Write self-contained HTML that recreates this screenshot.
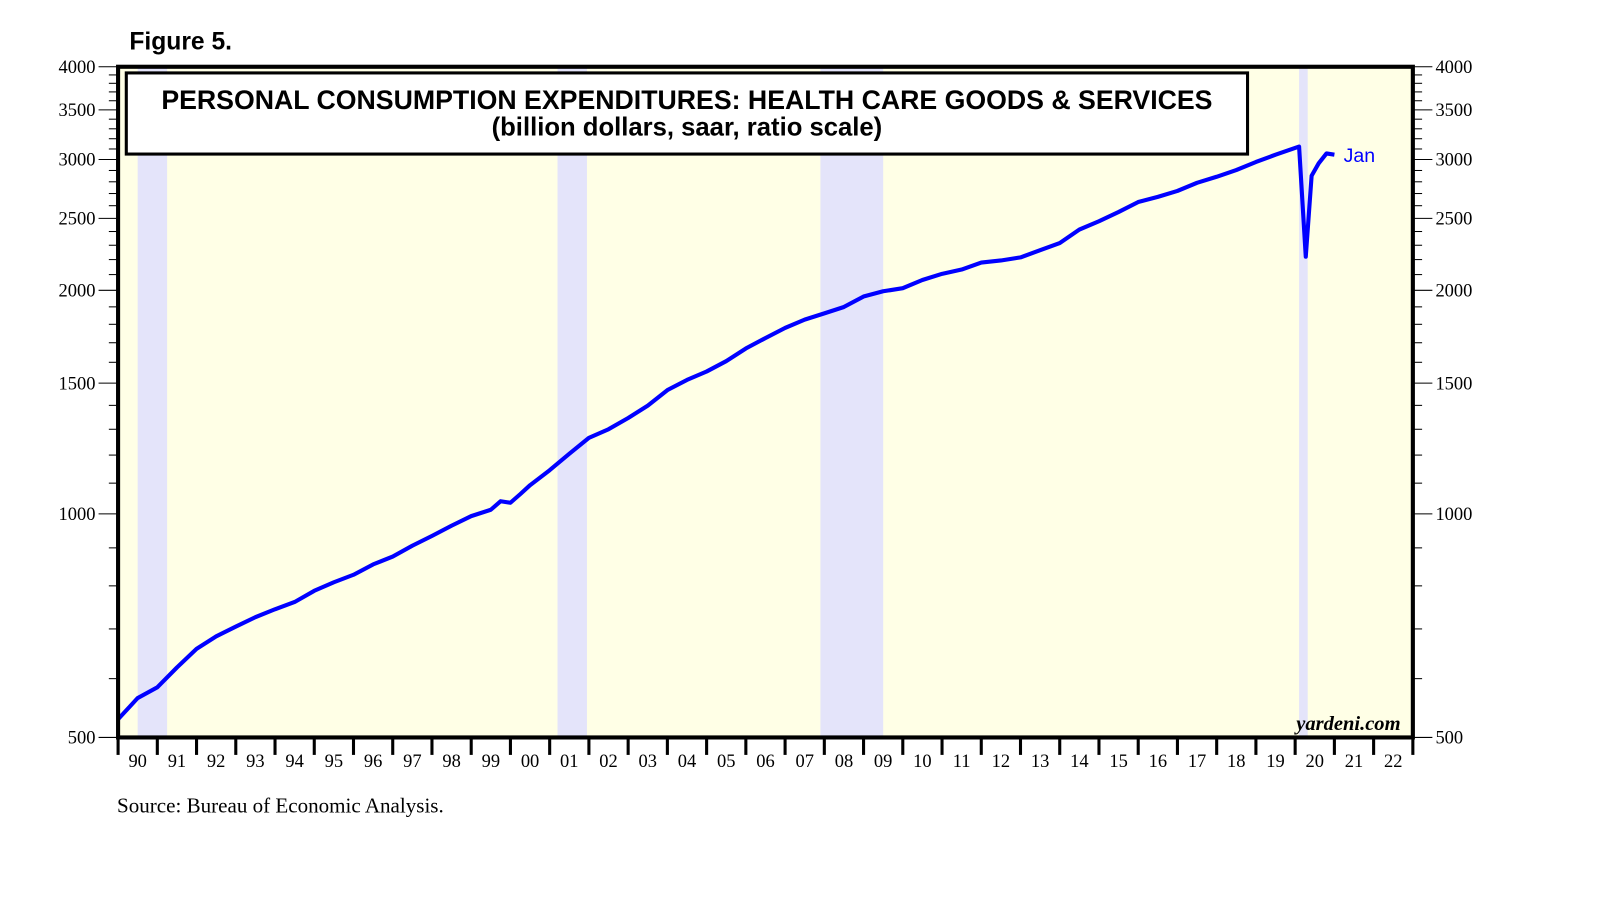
<!DOCTYPE html>
<html><head><meta charset="utf-8"><style>
body{margin:0;background:#fff;}
svg{display:block;}
</style></head><body>
<svg id="chart" width="1610" height="910" viewBox="0 0 1568 886" preserveAspectRatio="none" font-family="Liberation Sans, sans-serif">
<text x="126" y="48" font-size="24" font-weight="bold">Figure 5.</text>
<rect x="115" y="65" width="1261" height="653" fill="#ffffe6"/>
<g id="rec"></g>
<g id="yaxes"></g>
<g id="xaxis"></g>
<path id="line" fill="none" stroke="#0000ff" stroke-width="4" stroke-linejoin="round"/>
<rect x="115" y="65" width="1261" height="653" fill="none" stroke="#000" stroke-width="4"/>
<rect x="123" y="71" width="1092" height="79" fill="#fff" stroke="#000" stroke-width="3"/>
<text x="669" y="106" font-size="26" font-weight="bold" text-anchor="middle">PERSONAL CONSUMPTION EXPENDITURES: HEALTH CARE GOODS &amp; SERVICES</text>
<text x="669" y="132" font-size="25" font-weight="bold" text-anchor="middle">(billion dollars, saar, ratio scale)</text>
<text id="endlbl" font-size="19" fill="#0000ff">Jan</text>
<text x="1364" y="711" font-size="20" font-style="italic" font-weight="bold" font-family="Liberation Serif, serif" text-anchor="end">yardeni.com</text>
<text x="114" y="791" font-size="20.5" font-family="Liberation Serif, serif">Source: Bureau of Economic Analysis.</text>
</svg>
<script>
const times=[1990.0,1990.5,1991.0,1991.5,1992.0,1992.5,1993.0,1993.5,1994.0,1994.5,1995.0,1995.5,1996.0,1996.5,1997.0,1997.5,1998.0,1998.5,1999.0,1999.5,1999.75,2000.0,2000.25,2000.5,2001.0,2001.5,2002.0,2002.5,2003.0,2003.5,2004.0,2004.5,2005.0,2005.5,2006.0,2006.5,2007.0,2007.5,2008.0,2008.5,2009.0,2009.5,2010.0,2010.5,2011.0,2011.5,2012.0,2012.5,2013.0,2013.5,2014.0,2014.5,2015.0,2015.5,2016.0,2016.5,2017.0,2017.5,2018.0,2018.5,2019.0,2019.5,2020.1,2020.27,2020.42,2020.6,2020.8,2021.0];
const values=[529,565,584,621,658,684,705,726,744,761,788,809,828,855,876,906,934,964,993,1013,1040,1035,1063,1093,1145,1205,1266,1300,1346,1399,1468,1515,1555,1606,1670,1725,1780,1826,1862,1899,1962,1994,2013,2065,2105,2133,2180,2194,2215,2265,2316,2415,2478,2550,2630,2672,2722,2791,2844,2904,2978,3046,3123,2220,2853,2965,3057,3046];
const recStart=[1990.5,2001.2,2007.9,2020.1];
const recEnd=[1991.25,2001.95,2009.5,2020.32];
const yTicks=[500,1000,1500,2000,2500,3000,3500,4000];
const yearLabels=['90','91','92','93','94','95','96','97','98','99','00','01','02','03','04','05','06','07','08','09','10','11','12','13','14','15','16','17','18','19','20','21','22'];
const X0=115,X1=1376,Y0=718,Y1=65,T0=1990,T1=2023;
const xs=t=>X0+(t-T0)/(T1-T0)*(X1-X0);
const ys=v=>Y0-Math.log(v/500)/Math.log(8)*(Y0-Y1);
const NS='http://www.w3.org/2000/svg';
function mk(tag,attrs,parent){const e=document.createElementNS(NS,tag);for(const k in attrs)e.setAttribute(k,attrs[k]);parent.appendChild(e);return e;}
const rec=document.getElementById('rec');
recStart.forEach((s,i)=>{const r=mk('rect',{x:xs(s),y:Y1,width:xs(recEnd[i])-xs(s),height:Y0-Y1,fill:'#e4e4fa'},rec);

});
const ya=document.getElementById('yaxes');
for(let v=500;v<=4000;v+=100){const y=ys(v);const major=yTicks.includes(v);
const l1=mk('line',{x1:major?96:106,x2:X0,y1:y,y2:y,stroke:'#000','stroke-width':1},ya);


const l2=mk('line',{x1:X1,x2:major?1395:1385,y1:y,y2:y,stroke:'#000','stroke-width':1},ya);

}
yTicks.forEach(v=>{const y=ys(v)+6;
const a=mk('text',{x:93,y:y,'font-size':18,'text-anchor':'end','font-family':'Liberation Serif, serif'},ya);a.textContent=v;


const b=mk('text',{x:1398,y:y,'font-size':18,'font-family':'Liberation Serif, serif'},ya);b.textContent=v;

});
const xa=document.getElementById('xaxis');
for(let i=0;i<=yearLabels.length;i++){const x=xs(T0+i);
const t=mk('line',{x1:x,x2:x,y1:Y0,y2:Y0+17,stroke:'#000','stroke-width':3},xa);

}
yearLabels.forEach((s,i)=>{const t=mk('text',{x:xs(T0+i+0.5),y:747,'font-size':18,'text-anchor':'middle','font-family':'Liberation Serif, serif'},xa);t.textContent=s;

});
document.getElementById('line').setAttribute('d',times.map((t,i)=>(i?'L':'M')+xs(t).toFixed(1)+','+ys(values[i]).toFixed(1)).join(''));
const n=times.length-1,el=document.getElementById('endlbl');
el.setAttribute('x',xs(times[n])+9);el.setAttribute('y',ys(values[n])+7);
</script>
</body></html>
